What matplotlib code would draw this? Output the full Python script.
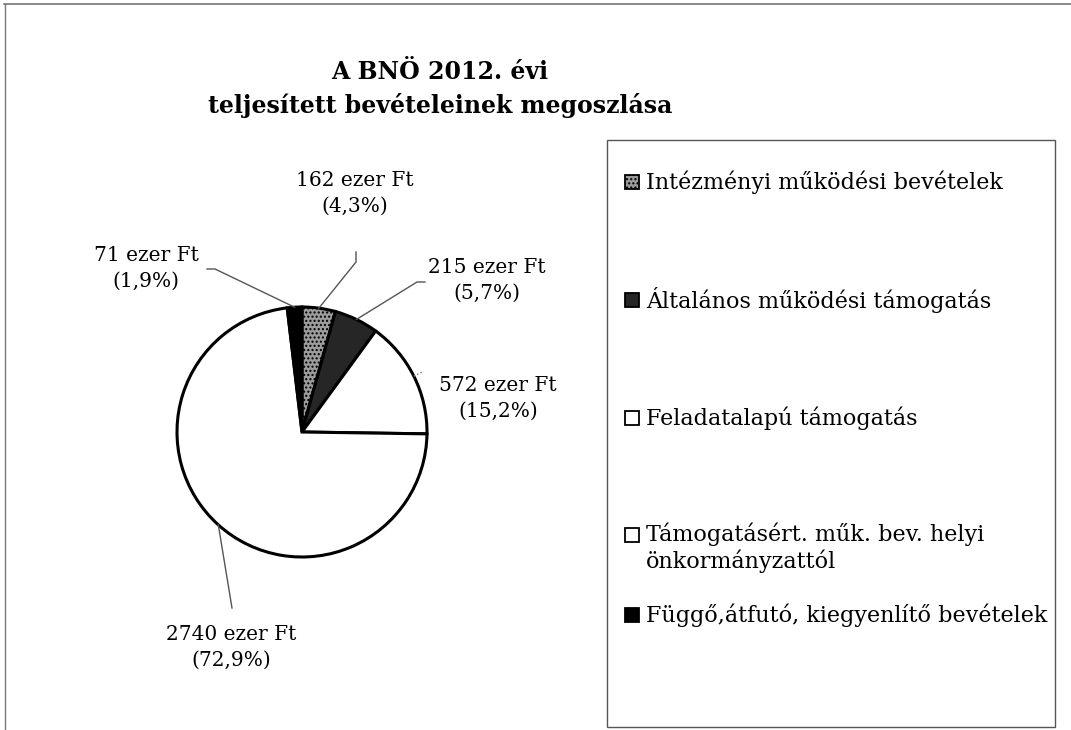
import numpy as np
import matplotlib.pyplot as plt
from matplotlib.patches import Rectangle
from matplotlib.lines import Line2D

# adatok
kategoriak = ['Intézményi működési bevételek',
              'Általános működési támogatás',
              'Feladatalapú támogatás',
              'Támogatásért. műk. bev. helyi\nönkormányzattól',
              'Függő,átfutó, kiegyenlítő bevételek']
ertekek = [162, 215, 572, 2740, 71]
szazalekok = ['4,3', '5,7', '15,2', '72,9', '1,9']
szinek = ['#9c9c9c', '#262626', '#ffffff', '#ffffff', '#000000']
mintak = ['....', '', '', '', '']

W, H = 1071, 730
CX, CY, R = 302, 432, 125   # kör középpontja és sugara pixelben

def fig_xy(px, py):
    return px / W, 1 - py / H

def data_xy(px, py):
    return (px - CX) / R, (CY - py) / R

plt.rcParams['font.family'] = 'DejaVu Serif'
fig = plt.figure(figsize=(W / 100, H / 100), dpi=100)

# külső keret (csak felső és bal oldal látszik)
fig.add_artist(Line2D([0.004, 1.0], [1 - 4 / H, 1 - 4 / H], color='#777777', lw=1.2))
fig.add_artist(Line2D([5 / W, 5 / W], [0, 1 - 4 / H], color='#777777', lw=1.0))

# cím
fig.text(*fig_xy(440, 72), 'A BNÖ 2012. évi', ha='center', va='center',
         fontsize=17, fontweight='bold')
fig.text(*fig_xy(440, 105), 'teljesített bevételeinek megoszlása', ha='center', va='center',
         fontsize=17, fontweight='bold')

# kördiagram
ax = fig.add_axes([(CX - R) / W, 1 - (CY + R) / H, 2 * R / W, 2 * R / H])
wedges, _ = ax.pie(ertekek, colors=szinek, startangle=90, counterclock=False, radius=1,
                   wedgeprops=dict(edgecolor='black', linewidth=2.2))
for w, m in zip(wedges, mintak):
    if m:
        w.set_hatch(m)
ax.set_xlim(-1, 1)
ax.set_ylim(-1, 1)
ax.set_aspect('equal')

# feliratok + vezetővonalak
felirat_poz = [(355, 193), (487, 280), (498, 398), (231, 647), (146, 268)]
vezeto = [[(356, 252), (356, 262)],
          [(425, 282), (417, 282)],
          None,
          [(232, 608)],
          [(207, 269), (215, 269)]]
for i, w in enumerate(wedges):
    tx, ty = data_xy(*felirat_poz[i])
    ax.text(tx, ty, f'{ertekek[i]} ezer Ft\n({szazalekok[i]}%)', ha='center', va='center',
            fontsize=14.5, linespacing=1.45, clip_on=False)
    szog = np.deg2rad((w.theta1 + w.theta2) / 2)
    ex, ey = np.cos(szog), np.sin(szog)
    if vezeto[i] is None:
        ax.plot([ex, ex * 1.07], [ey, ey * 1.07], color='#777777', lw=1, ls=':', clip_on=False)
        continue
    pts = [data_xy(*p) for p in vezeto[i]] + [(ex, ey)]
    xs, ys = zip(*pts)
    ax.plot(xs, ys, color='#555555', lw=1, clip_on=False)

# jelmagyarázat doboza
bx0, by0 = fig_xy(607, 727)
bx1, by1 = fig_xy(1055, 140)
fig.add_artist(Rectangle((bx0, by0), bx1 - bx0, by1 - by0, transform=fig.transFigure,
                         fill=False, edgecolor='#555555', lw=1))

legend_y = [182, 300, 418, 535, 615]
for i, nev in enumerate(kategoriak):
    sx, sy = fig_xy(625, legend_y[i] + 7)
    fig.add_artist(Rectangle((sx, sy), 14 / W, 14 / H, transform=fig.transFigure,
                             facecolor=szinek[i], edgecolor='black', lw=1.3,
                             hatch=mintak[i] if mintak[i] else None))
    if '\n' in nev:
        fig.text(*fig_xy(646, legend_y[i] - 13), nev, ha='left', va='top',
                 fontsize=16, linespacing=1.2)
    else:
        fig.text(*fig_xy(646, legend_y[i]), nev, ha='left', va='center', fontsize=16)

fig.savefig('out.png', dpi=100)
